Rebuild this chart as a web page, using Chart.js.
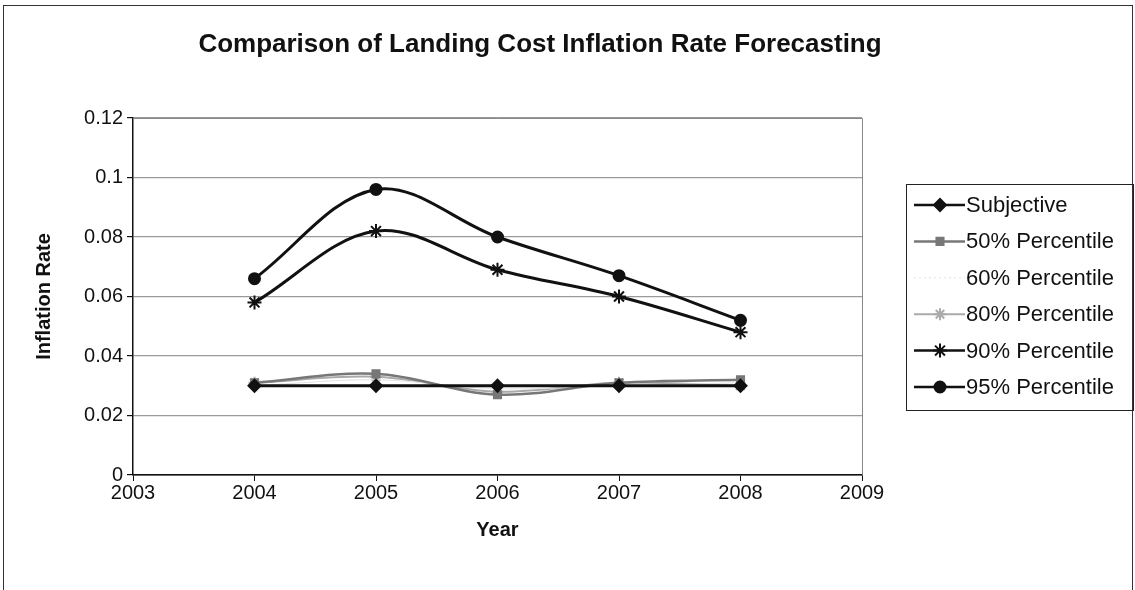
<!DOCTYPE html>
<html>
<head>
<meta charset="utf-8">
<script src="https://cdn.jsdelivr.net/npm/chart.js@4.4.1/dist/chart.umd.min.js"></script>
<style>
  html, body { margin: 0; padding: 0; background: #fff; }
  #wrap { width: 1135px; height: 590px; position: relative; }
</style>
</head>
<body>
<div id="wrap"><canvas id="c" width="1135" height="590"></canvas></div>
<script>
// Forecast years and inflation rate series
const years = [2004, 2005, 2006, 2007, 2008];
const subjective = [0.030, 0.030, 0.030, 0.030, 0.030];
const p50 = [0.031, 0.034, 0.027, 0.031, 0.032];
const p60 = [0.030, 0.032, 0.029, 0.030, 0.031];
const p80 = [0.031, 0.033, 0.028, 0.031, 0.030];
const p90 = [0.058, 0.082, 0.069, 0.060, 0.048];
const p95 = [0.066, 0.096, 0.080, 0.067, 0.052];
const seriesNames = ['Subjective', '50% Percentile', '60% Percentile', '80% Percentile', '90% Percentile', '95% Percentile'];
const yTicks = [0, 0.02, 0.04, 0.06, 0.08, 0.1, 0.12];
const xTicks = [2003, 2004, 2005, 2006, 2007, 2008, 2009];

const FONT = '"Liberation Sans", Arial, sans-serif';

function pts(vals) { return years.map((y, i) => ({ x: y, y: vals[i] })); }

const styles = [
  { color: '#111', marker: 'rectRot', radius: 6, width: 3 },
  { color: '#777', marker: 'rect', radius: 5, width: 2.5 },
  { color: '#e2e2e2', marker: false, radius: 0, width: 1 },
  { color: '#aaa', marker: 'star', radius: 6, width: 2 },
  { color: '#111', marker: 'star', radius: 7, width: 3 },
  { color: '#111', marker: 'circle', radius: 5.5, width: 3 }
];
const values = [subjective, p50, p60, p80, p90, p95];

const datasets = values.map((v, i) => ({
  label: seriesNames[i],
  data: pts(v),
  borderColor: styles[i].color,
  backgroundColor: styles[i].color,
  borderWidth: styles[i].width,
  pointStyle: styles[i].marker || 'circle',
  pointRadius: styles[i].radius,
  pointBorderWidth: 2,
  pointBorderColor: styles[i].color,
  showLine: true,
  tension: 0.35,
  fill: false
}));

// Titles, chart frame and legend drawn on the canvas
const decor = {
  id: 'decor',
  beforeDraw(chart) {
    const ctx = chart.ctx;
    ctx.save();
    ctx.fillStyle = '#fff';
    ctx.fillRect(0, 0, chart.width, chart.height);
    ctx.restore();
  },
  afterDraw(chart) {
    const ctx = chart.ctx;
    const a = chart.chartArea;
    ctx.save();
    // outer frame
    ctx.strokeStyle = '#333';
    ctx.lineWidth = 1;
    ctx.strokeRect(3.5, 5.5, 1129, 620);
    // plot frame (top/right)
    ctx.strokeStyle = '#888';
    ctx.beginPath();
    ctx.moveTo(a.left, a.top + 0.5);
    ctx.lineTo(a.right + 0.5, a.top + 0.5);
    ctx.lineTo(a.right + 0.5, a.bottom);
    ctx.stroke();
    // chart title
    ctx.fillStyle = '#111';
    ctx.font = 'bold 26px ' + FONT;
    ctx.textAlign = 'center';
    ctx.textBaseline = 'middle';
    ctx.fillText('Comparison of Landing Cost Inflation Rate Forecasting', 540, 45);
    // axis titles
    ctx.font = 'bold 20px ' + FONT;
    ctx.fillText('Year', (a.left + a.right) / 2, 530);
    ctx.save();
    ctx.translate(44, (a.top + a.bottom) / 2);
    ctx.rotate(-Math.PI / 2);
    ctx.fillText('Inflation Rate', 0, 0);
    ctx.restore();
    // legend
    const lx = 906, ly = 184, lw = 227, lh = 226;
    ctx.strokeStyle = '#222';
    ctx.lineWidth = 1;
    ctx.strokeRect(lx + 0.5, ly + 0.5, lw, lh);
    ctx.font = '22px ' + FONT;
    ctx.textAlign = 'left';
    seriesNames.forEach((name, i) => {
      const y = ly + 21 + i * 36.4;
      const s = styles[i];
      ctx.strokeStyle = s.color;
      ctx.lineWidth = Math.min(s.width, 2.5);
      if (i === 2) ctx.setLineDash([2, 3]);
      ctx.beginPath();
      ctx.moveTo(914, y);
      ctx.lineTo(965, y);
      ctx.stroke();
      ctx.setLineDash([]);
      if (s.marker) {
        ctx.fillStyle = s.color;
        ctx.strokeStyle = s.color;
        ctx.lineWidth = 2;
        Chart.helpers.drawPoint(ctx, { pointStyle: s.marker, radius: s.radius, borderWidth: 2, rotation: 0 }, 940, y);
      }
      ctx.fillStyle = '#111';
      ctx.fillText(name, 966, y + 1);
    });
    ctx.restore();
  }
};

new Chart(document.getElementById('c'), {
  type: 'scatter',
  data: { datasets },
  options: {
    responsive: false,
    animation: false,
    layout: { padding: { left: 0, top: 118, right: 273, bottom: 0 } },
    plugins: { legend: { display: false }, tooltip: { enabled: false }, title: { display: false } },
    scales: {
      x: {
        type: 'linear',
        min: 2003, max: 2009,
        afterBuildTicks(scale) { scale.ticks = xTicks.map(v => ({ value: v })); },
        afterFit(scale) { scale.height = 115; },
        grid: { drawOnChartArea: false, tickLength: 6, color: '#111', tickColor: '#111' },
        border: { color: '#111', width: 1.5 },
        ticks: { color: '#111', padding: 0, font: { family: FONT, size: 20 }, callback: v => String(v) }
      },
      y: {
        min: 0, max: 0.12,
        afterBuildTicks(scale) { scale.ticks = yTicks.map(v => ({ value: v })); },
        afterFit(scale) { scale.width = 133; },
        grid: {
          color: ctx => ctx.tick && ctx.tick.value === 0 ? '#111' : '#9a9a9a',
          tickLength: 6, tickColor: '#111', lineWidth: 1.2
        },
        border: { color: '#111', width: 1.5 },
        ticks: { color: '#111', padding: 4, font: { family: FONT, size: 20 }, callback: v => String(+v.toFixed(2)) }
      }
    }
  },
  plugins: [decor]
});
</script>
</body>
</html>
